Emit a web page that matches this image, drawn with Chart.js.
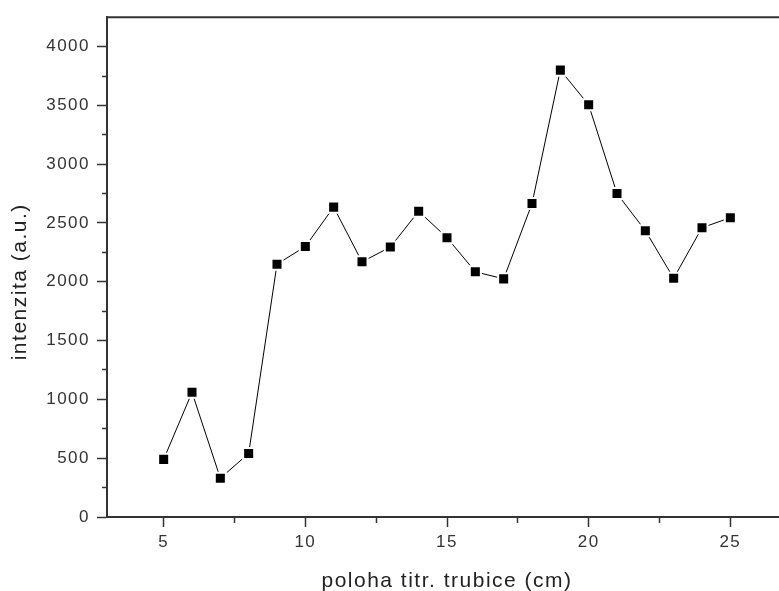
<!DOCTYPE html>
<html>
<head>
<meta charset="utf-8">
<script src="https://cdn.jsdelivr.net/npm/chart.js@4/dist/chart.umd.min.js"></script>
<style>
  html, body { margin: 0; padding: 0; background: #fff; overflow: hidden; }
  #wrap { width: 787px; height: 594px; position: relative; }
  #graph { display: block; width: 787px; height: 594px; }
</style>
</head>
<body>
<div id="wrap"><canvas id="graph" width="787" height="594"></canvas></div>
<script>
// poloha titr. trubice (cm)
const positions = [5, 6, 7, 8, 9, 10, 11, 12, 13, 14, 15, 16, 17, 18, 19, 20, 21, 22, 23, 24, 25];
// intenzita (a.u.)
const intensity = [490, 1060, 330, 540, 2150, 2300, 2635, 2170, 2295, 2600, 2375, 2085, 2025, 2665, 3800, 3505, 2750, 2435, 2030, 2460, 2545];

const xRange = [3, 27];
const yRange = [0, 4250];
const xMinorStep = 2.5, xMajorStep = 5;
const yMinorStep = 250, yMajorStep = 500, yLastTick = 4000;

const fontFamily = "'Liberation Sans', Arial, sans-serif";
const axisColor = '#333';

function isStep(v, step) {
    const r = v / step;
    return Math.abs(r - Math.round(r)) < 1e-6;
}

// letter spacing like the original plot software, and the top frame line
const framePlugin = {
    id: 'frame',
    beforeDraw(chart) {
        chart.ctx.letterSpacing = '1.5px';
    },
    afterDraw(chart) {
        const ctx = chart.ctx;
        const area = chart.chartArea;
        ctx.save();
        ctx.strokeStyle = axisColor;
        ctx.lineWidth = 2;
        ctx.beginPath();
        ctx.moveTo(area.left - 1, area.top);
        ctx.lineTo(chart.width, area.top);
        ctx.stroke();
        ctx.restore();
    }
};

let graph = document.getElementById('graph').getContext('2d');
let profileChart = new Chart(graph, {
    type: 'scatter',
    data: {
        datasets: [{
            data: positions.map((x, i) => ({ x: x, y: intensity[i] })),
            showLine: true,
            borderColor: '#000',
            borderWidth: 1,
            pointStyle: 'rect',
            pointRadius: 7.8,
            pointBackgroundColor: '#000',
            pointBorderColor: '#fff',
            pointBorderWidth: 2,
            pointHoverRadius: 7.8
        }]
    },
    options: {
        responsive: false,
        maintainAspectRatio: false,
        animation: false,
        layout: { autoPadding: false, padding: { top: 15, left: 0, right: 0, bottom: 0 } },
        plugins: {
            legend: { display: false },
            tooltip: { enabled: false }
        },
        scales: {
            x: {
                type: 'linear',
                position: 'bottom',
                min: xRange[0],
                max: xRange[1],
                afterFit: s => { s.height = 77; s.paddingLeft = 0; s.paddingRight = 0; },
                afterBuildTicks: s => { s.ticks = s.ticks.filter(t => isStep(t.value, xMinorStep)); },
                border: { display: true, color: axisColor, width: 2 },
                grid: {
                    drawOnChartArea: false,
                    drawTicks: true,
                    tickLength: 10,
                    tickWidth: 1.5,
                    tickColor: axisColor,
                    tickBorderDash: c => isStep(c.tick.value, xMajorStep) ? [] : [5, 5],
                    tickBorderDashOffset: 0
                },
                ticks: {
                    stepSize: xMinorStep,
                    autoSkip: false,
                    maxRotation: 0,
                    padding: 5,
                    color: '#333',
                    font: { family: fontFamily, size: 17 },
                    callback: v => isStep(v, xMajorStep) ? String(Math.round(v)) : ''
                },
                title: {
                    display: true,
                    text: 'poloha titr. trubice (cm)',
                    color: '#222',
                    padding: { top: 0, bottom: 0 },
                    font: { family: fontFamily, size: 21 }
                }
            },
            y: {
                type: 'linear',
                position: 'left',
                min: yRange[0],
                max: yRange[1],
                afterFit: s => { s.width = 107; },
                afterBuildTicks: s => { s.ticks = s.ticks.filter(t => isStep(t.value, yMinorStep) && t.value <= yLastTick); },
                border: { display: true, color: axisColor, width: 2 },
                grid: {
                    drawOnChartArea: false,
                    drawTicks: true,
                    tickLength: 10,
                    tickWidth: 1.5,
                    tickColor: axisColor,
                    tickBorderDash: c => isStep(c.tick.value, yMajorStep) ? [] : [5, 5],
                    tickBorderDashOffset: c => isStep(c.tick.value, yMajorStep) ? 0 : 5
                },
                ticks: {
                    stepSize: yMinorStep,
                    autoSkip: false,
                    padding: 7,
                    color: '#333',
                    font: { family: fontFamily, size: 17 },
                    callback: v => isStep(v, yMajorStep) ? String(Math.round(v)) : ''
                },
                title: {
                    display: true,
                    text: 'intenzita (a.u.)\u00a0\u00a0\u00a0\u00a0',
                    color: '#222',
                    padding: { top: 8, bottom: 0 },
                    font: { family: fontFamily, size: 21 }
                }
            }
        }
    },
    plugins: [framePlugin]
});
</script>
</body>
</html>
